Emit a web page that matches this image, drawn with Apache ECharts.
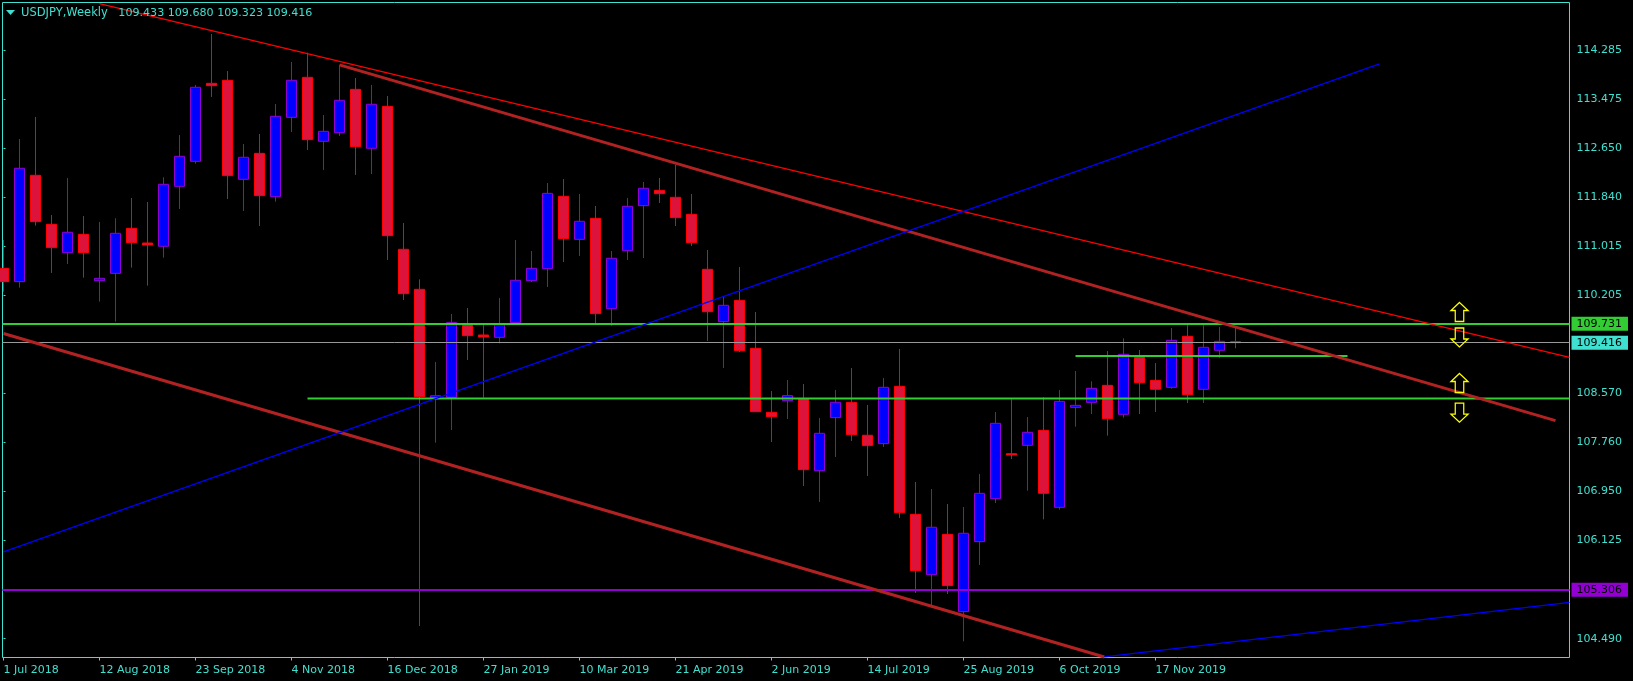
<!DOCTYPE html>
<html>
<head>
<meta charset="utf-8">
<style>html,body{margin:0;padding:0;background:#000}#c{width:1633px;height:681px}</style>
<script src="https://cdn.jsdelivr.net/npm/echarts@6/dist/echarts.min.js"></script>
</head>
<body>
<div id="c"></div>
<script>
const symbolText = 'USDJPY,Weekly';
const quoteText = '109.433 109.680 109.323 109.416';
const dateLabels = ['1 Jul 2018','12 Aug 2018','23 Sep 2018','4 Nov 2018','16 Dec 2018','27 Jan 2019','10 Mar 2019','21 Apr 2019','2 Jun 2019','14 Jul 2019','25 Aug 2019','6 Oct 2019','17 Nov 2019'];
const priceTicks = [114.285,113.475,112.650,111.840,111.015,110.205,108.570,107.760,106.950,106.125,104.490];

const opens = [110.654,110.432,112.201,111.386,110.914,111.219,110.448,110.570,111.319,111.075,111.020,112.018,112.434,113.732,113.782,112.135,112.567,111.846,113.166,113.832,112.767,112.911,113.632,112.651,113.349,
110.970,110.304,108.496,108.507,109.727,109.544,109.505,109.749,110.448,110.648,111.852,111.136,111.485,109.982,110.947,111.696,111.951,111.835,111.552,110.637,109.766,110.121,109.322,108.257,
108.451,108.485,107.286,108.169,108.424,107.875,107.736,108.690,106.560,105.556,106.227,104.940,106.105,106.821,107.569,107.708,107.957,106.676,108.340,108.423,108.706,108.224,109.183,108.789,108.673,109.522,108.640,109.289,109.433];
const closes = [110.432,112.318,111.430,110.998,111.253,110.914,110.487,111.236,111.081,111.042,112.051,112.517,113.666,113.693,112.196,112.501,111.863,113.183,113.782,112.795,112.933,113.449,112.678,113.383,111.197,
110.232,108.518,108.534,109.749,109.533,109.511,109.727,110.454,110.653,111.901,111.147,111.436,109.899,110.820,111.685,111.985,111.896,111.497,111.081,109.932,110.038,109.283,108.268,108.185,
108.535,107.303,107.908,108.424,107.886,107.703,108.673,106.588,105.622,106.344,105.373,106.244,106.909,108.074,107.547,107.924,106.909,108.440,108.373,108.656,108.151,109.222,108.751,108.640,109.455,108.551,109.339,109.438,109.416];
const lows = [110.265,110.332,111.364,110.576,110.726,110.498,110.099,109.766,110.665,110.365,110.831,111.641,112.395,113.505,111.807,111.608,111.358,111.763,112.922,112.623,112.290,112.856,112.207,112.223,110.792,
110.126,104.701,107.752,107.963,109.128,108.501,109.405,109.727,110.426,110.343,110.759,110.859,109.727,109.694,110.792,110.825,111.741,111.358,111.025,109.444,108.995,109.261,108.262,107.763,
108.146,107.031,106.765,107.514,107.780,107.198,107.680,106.499,105.251,105.023,105.234,104.446,105.717,106.748,107.480,106.953,106.476,106.637,108.018,108.229,107.869,108.168,108.229,108.262,108.651,108.412,108.412,109.161,109.323];
const highs = [111.125,112.806,113.172,111.541,112.157,111.525,111.425,111.486,111.824,111.757,112.168,112.872,113.705,114.553,113.937,112.723,112.889,113.388,114.087,114.243,113.205,114.037,113.821,113.705,113.521,
111.408,110.470,109.095,109.893,109.993,109.710,110.160,111.125,110.942,112.073,112.140,111.890,111.691,110.942,111.824,112.090,112.157,112.373,111.890,110.958,110.193,110.676,109.927,108.612,
108.795,108.729,108.163,108.629,108.995,108.379,108.829,109.311,107.098,106.981,106.732,106.682,107.231,108.263,108.473,108.179,108.506,108.628,108.945,108.773,109.277,109.488,109.294,109.078,109.660,109.710,109.710,109.677,109.680];

const thinRedLine = [[6,115.06],[97.875,109.173]];
const upperChannelLine = [[21,114.038],[97,108.118]];
const lowerChannelLine = [[0,109.568],[68.8,104.186]];
const risingBlueLine = [[0,105.933],[86,114.054]];
const lowerBlueLine = [[68.8,104.186],[97.875,105.096]];
const greenShortLine = [[67,109.195],[84,109.195]];
const greenLongLine = [[19,108.485],[97.875,108.485]];
const greenLevel = 109.731;
const closeLevel = 109.416;
const purpleLevel = 105.306;
const upArrows = [[91,109.927],[91,108.745]];
const downArrows = [[91,109.503],[91,108.251]];

const TEAL = '#40E0D0';
const FONT = '"DejaVu Sans"';
const WEEK_STEP = 6;
const arrowPath = 'path://M8 0L16 8L12 8L12 19L4 19L4 8L0 8Z';

const candles = opens.map((o, i) => [i, o, closes[i], lows[i], highs[i]]);

function lineSeries(name, data, color, width) {
  return {name, type:'line', data, symbol:'none', silent:true, animation:false, z:5,
    lineStyle:{color, width}, itemStyle:{color}};
}
function levelSeries(name, value, color, width, tag) {
  return {name, type:'line', data:[], symbol:'none', silent:true, animation:false, z:5,
    markLine:{silent:true, symbol:'none', animation:false, z:5, precision:3,
      lineStyle:{color, width, type:'solid'},
      label:{show:true, position:'end', distance:2, formatter:()=>value.toFixed(3),
        backgroundColor:tag, color:'#000', fontFamily:FONT, fontSize:11, lineHeight:12, padding:[1,6,1,5]},
      data:[{yAxis:value}]}};
}
function arrowSeries(name, data, rotate) {
  return {name, type:'scatter', data, symbol:arrowPath, symbolSize:[17,19], symbolRotate:rotate,
    silent:true, animation:false, z:6,
    itemStyle:{color:'rgba(0,0,0,0)', borderColor:'#FFFF00', borderWidth:1.3, opacity:1}};
}

const chart = echarts.init(document.getElementById('c'), null, {renderer:'canvas', width:1633, height:681});
chart.setOption({
  backgroundColor:'#000',
  animation:false,
  title:{text:'{a|'+symbolText+'}   {b|'+quoteText+'}', left:21, top:7, padding:0,
    textStyle:{color:TEAL, fontFamily:FONT, fontSize:11, fontWeight:'normal',
      rich:{a:{color:TEAL, fontFamily:FONT, fontSize:11.5}, b:{color:TEAL, fontFamily:FONT, fontSize:11.1}}}},
  graphic:[{type:'polygon', shape:{points:[[6,10],[15,10],[10.5,15]]}, style:{fill:TEAL}, z:10}],
  grid:{left:2.5, top:2.5, width:1567, height:655, show:true, borderColor:TEAL, borderWidth:1, backgroundColor:'transparent', containLabel:false},
  xAxis:{
    type:'value', min:-0.0625, max:97.875,
    axisLine:{show:false}, splitLine:{show:false},
    axisTick:{show:true, length:3, inside:false, lineStyle:{color:TEAL}, customValues:dateLabels.map((_,i)=>i*WEEK_STEP)},
    axisLabel:{show:true, color:TEAL, fontFamily:FONT, fontSize:11, margin:7, align:'left',
      customValues:dateLabels.map((_,i)=>i*WEEK_STEP), formatter:v=>dateLabels[Math.round(v/WEEK_STEP)]}
  },
  yAxis:{
    type:'value', position:'right', min:104.177, max:115.077, scale:true,
    axisLine:{show:false}, splitLine:{show:false},
    axisTick:{show:true, length:2, lineStyle:{color:TEAL}, customValues:priceTicks},
    axisLabel:{show:true, color:TEAL, fontFamily:FONT, fontSize:11, margin:7, align:'left',
      customValues:priceTicks, formatter:v=>v.toFixed(3)}
  },
  series:[
    {name:'USDJPY', type:'candlestick', data:candles, encode:{x:0,y:[1,2,3,4]}, barWidth:10, silent:true, animation:false, z:2,
      itemStyle:{color:'#0000FF', color0:'#DC143C', borderColor:'#9400D3', borderColor0:'#FF0000', borderWidth:1}},
    levelSeries('Level 109.731', greenLevel, '#32CD32', 2, '#32CD32'),
    levelSeries('Close', closeLevel, '#999999', 1, TEAL),
    levelSeries('Level 105.306', purpleLevel, '#9400D3', 2, '#9400D3'),
    lineSeries('Green short', greenShortLine, '#32CD32', 2),
    lineSeries('Green long', greenLongLine, '#32CD32', 2),
    lineSeries('Thin trend', thinRedLine, '#FF0000', 1.3),
    lineSeries('Upper channel', upperChannelLine, '#B22222', 3),
    lineSeries('Lower channel', lowerChannelLine, '#B22222', 3),
    lineSeries('Rising support', risingBlueLine, '#0000FF', 1.3),
    lineSeries('Lower support', lowerBlueLine, '#0000FF', 1.3),
    arrowSeries('Up arrows', upArrows, 0),
    arrowSeries('Down arrows', downArrows, 180)
  ]
});
</script>
</body>
</html>
